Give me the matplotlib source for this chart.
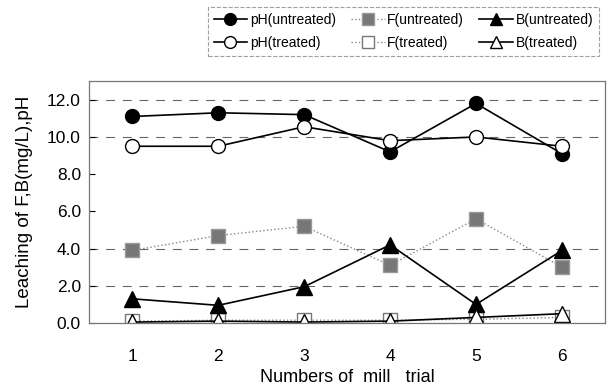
import matplotlib.pyplot as plt
import numpy as np

plt.rcParams['font.family'] = ['Liberation Sans', 'DejaVu Sans']

trials = [1, 2, 3, 4, 5, 6]
ph_untreated = [11.1, 11.3, 11.2, 9.2, 11.8, 9.1]
ph_treated = [9.5, 9.5, 10.55, 9.8, 10.0, 9.5]
f_untreated = [3.9, 4.7, 5.2, 3.1, 5.6, 3.0]
f_treated = [0.1, 0.15, 0.15, 0.15, 0.2, 0.3]
b_untreated = [1.3, 0.95, 1.95, 4.2, 1.0, 3.9]
b_treated = [0.05, 0.1, 0.05, 0.1, 0.3, 0.5]
grid_levels = [2, 4, 10, 12]

fig = plt.figure(figsize=(6.16, 3.92), dpi=100)
ax = fig.add_axes([0.145, 0.176, 0.837, 0.617])

for g in grid_levels:
    ax.axhline(g, color='#666666', lw=0.8, ls=(0, (8, 7)), zorder=0)

ms = 10
ax.plot(trials, ph_untreated, '-o', color='black', mfc='black', mec='black', ms=ms, lw=1.2, label='pH(untreated)')
ax.plot(trials, ph_treated, '-o', color='black', mfc='white', mec='black', ms=ms, lw=1.2, label='pH(treated)')
ax.plot(trials, f_untreated, ':s', color='#888888', mfc='#777777', mec='#999999', ms=ms, lw=1.0, label='F(untreated)')
ax.plot(trials, f_treated, ':s', color='#888888', mfc='white', mec='#777777', ms=ms, lw=1.0, label='F(treated)')
ax.plot(trials, b_untreated, '-^', color='black', mfc='black', mec='black', ms=ms + 1, lw=1.2, label='B(untreated)')
ax.plot(trials, b_treated, '-^', color='black', mfc='white', mec='black', ms=ms + 1, lw=1.2, label='B(treated)')

ax.set_xlim(0.5, 6.5)
ax.set_ylim(0, 13)
ax.set_xticks(trials)
ax.set_yticks(np.arange(0, 13, 2))
ax.set_yticklabels([f'{v:.1f}' for v in np.arange(0, 13, 2)])
ax.tick_params(axis='x', length=0, labelsize=12.5, pad=19)
ax.tick_params(axis='y', direction='in', length=4, labelsize=12.5, colors='black', pad=6)
for sp in ax.spines.values():
    sp.set_color('#777777')
    sp.set_linestyle((0, (2, 1)))
    sp.set_linewidth(0.9)

ax.set_xlabel('Numbers of  mill   trial', fontsize=13)
ax.xaxis.set_label_coords(0.5, -0.19)
ax.set_ylabel('Leaching of F,B(mg/L),pH', fontsize=13.5, labelpad=10)

leg = fig.legend(loc='upper center', bbox_to_anchor=(0.655, 1.0), ncol=3, fontsize=10,
                 frameon=True, fancybox=False, edgecolor='#888888', handlelength=2.4,
                 handletextpad=0.2, columnspacing=1.1, borderpad=0.45, labelspacing=0.6,
                 markerscale=0.85)
leg.get_frame().set_linewidth(0.8)
leg.get_frame().set_linestyle('--')

fig.savefig('out.png', dpi=100)
